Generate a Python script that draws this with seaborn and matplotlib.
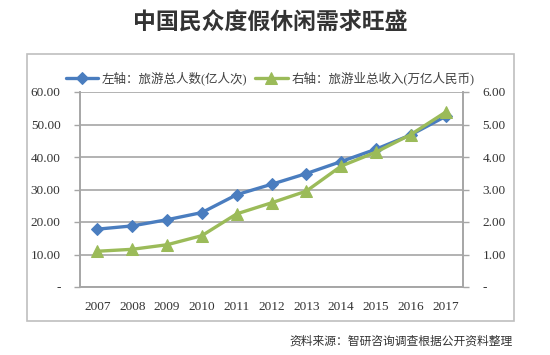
import pandas as pd
import seaborn as sns
import matplotlib.pyplot as plt
from matplotlib.patches import Rectangle
from matplotlib.ticker import FuncFormatter, FixedLocator

# 数据
years = ['2007', '2008', '2009', '2010', '2011', '2012', '2013', '2014', '2015', '2016', '2017']
tourists = [17.8, 18.8, 20.7, 22.9, 28.4, 31.6, 34.9, 38.6, 42.4, 46.8, 52.5]   # 亿人次
revenue = [1.10, 1.16, 1.30, 1.58, 2.25, 2.59, 2.95, 3.72, 4.15, 4.69, 5.38]     # 万亿人民币

label_left = '左轴：旅游总人数(亿人次)'
label_right = '右轴：旅游业总收入(万亿人民币)'

df = pd.DataFrame({'year': years, 'pos': range(len(years)),
                   'tourists': tourists, 'revenue': revenue})

sns.set_theme(style='white')
plt.rcParams['font.family'] = ['Liberation Serif', 'Noto Sans CJK SC']

blue = '#4a7dbf'
green = '#9bbb59'
grid_c = '#a6a6a6'
txt_c = '#333333'

fig = plt.figure(figsize=(5.5, 3.55), dpi=100)
ax = fig.add_axes([80 / 550, 1 - 287 / 355, (463 - 80) / 550, (287 - 92) / 355])
ax2 = ax.twinx()

sns.lineplot(data=df, x='pos', y='tourists', ax=ax, color=blue, lw=2.4,
             marker='D', markersize=6.5, markeredgecolor=blue, label=label_left, legend=False)
sns.lineplot(data=df, x='pos', y='revenue', ax=ax2, color=green, lw=2.4,
             marker='^', markersize=8, markeredgecolor=green, label=label_right, legend=False)

ax.set_xlim(-0.5, len(years) - 0.5)
ax.set_ylim(0, 60)
ax2.set_ylim(0, 6)
ax.set_yticks(range(0, 61, 10))
ax2.set_yticks(range(0, 7, 1))

fmt = FuncFormatter(lambda v, p: '-' if v == 0 else f'{v:.2f}')
ax.yaxis.set_major_formatter(fmt)
ax2.yaxis.set_major_formatter(fmt)

# x 轴：标签在类别中心，刻度线在类别边界
ax.set_xticks(df['pos'])
ax.set_xticklabels(years)
ax.xaxis.set_minor_locator(FixedLocator([i - 0.5 for i in range(len(years) + 1)]))
ax.tick_params(axis='x', which='major', length=0, pad=10, labelsize=9.5, labelcolor=txt_c)
ax.tick_params(axis='x', which='minor', direction='inout', length=6, width=1, color=grid_c)

ax.tick_params(axis='y', left=True, direction='out', length=4, width=1, color=grid_c,
               pad=10, labelsize=9.5, labelcolor=txt_c)
ax2.tick_params(axis='y', right=True, direction='out', length=4, width=1, color=grid_c,
                pad=10, labelsize=9.5, labelcolor=txt_c)

ax.grid(axis='y', color=grid_c, lw=1.2)
ax.set_axisbelow(True)
ax.set_xlabel('')
ax.set_ylabel('')
ax2.set_ylabel('')

for a in (ax, ax2):
    a.spines['top'].set_visible(False)
    for s in ('left', 'right', 'bottom'):
        a.spines[s].set_color(grid_c)
        a.spines[s].set_linewidth(1.2)

# 图例
h1, l1 = ax.get_legend_handles_labels()
h2, l2 = ax2.get_legend_handles_labels()
fig.legend(h1 + h2, l1 + l2, loc='center', bbox_to_anchor=(270 / 550, 1 - 78 / 355),
           ncol=2, frameon=False, fontsize=9, handlelength=2.6, columnspacing=0.6,
           handletextpad=0.3, labelcolor='#404040')

# 外框
fig.patches.append(Rectangle((27 / 550, 1 - 321 / 355), (514 - 27) / 550, (321 - 54) / 355,
                             transform=fig.transFigure, fill=False,
                             edgecolor='#bfbfbf', lw=1.2))

fig.text(270 / 550, 1 - 23 / 355, '中国民众度假休闲需求旺盛', ha='center', va='center',
         fontsize=16.5, fontweight='bold', color='#333333', family=['Noto Sans CJK SC'])
fig.text(513 / 550, 1 - 341 / 355, '资料来源：智研咨询调查根据公开资料整理', ha='right',
         va='center', fontsize=8.5, color='#333333', family=['Noto Sans CJK SC'])

fig.savefig('out.png', dpi=100)
